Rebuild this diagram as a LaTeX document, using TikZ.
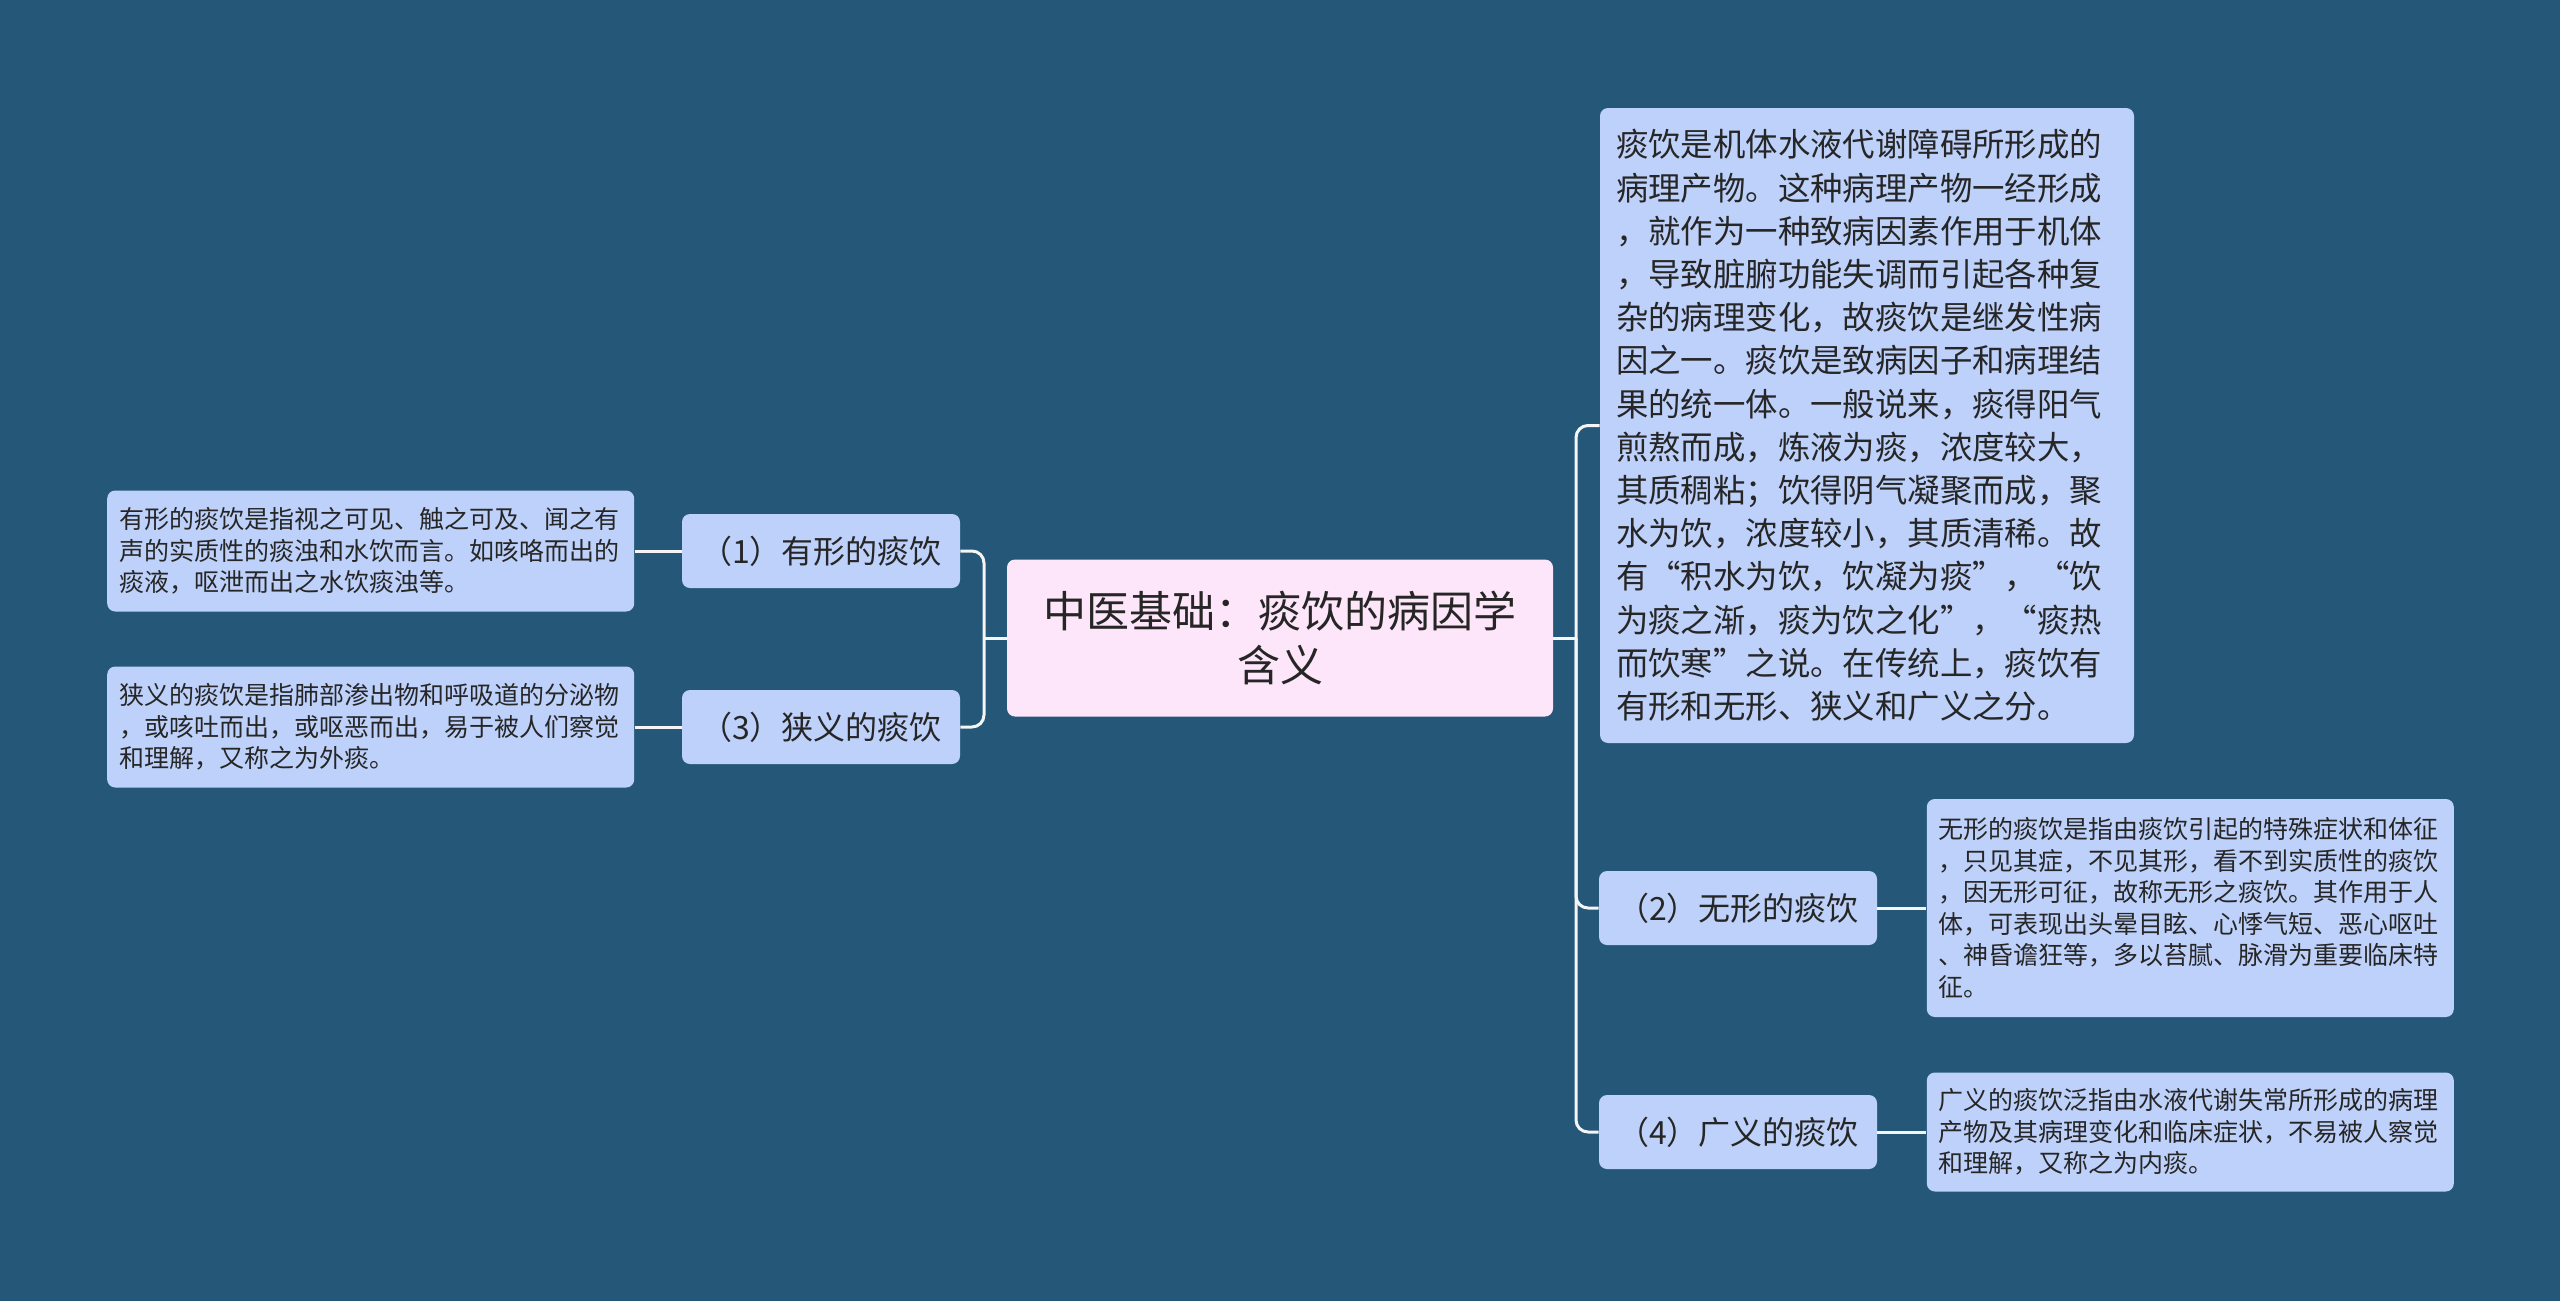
\documentclass[tikz,border=0pt]{standalone}
\usepackage{fontspec}
\newfontfamily\cjk{Noto Sans CJK SC}
\usepackage{tikz}
\usetikzlibrary{positioning}

\definecolor{bgcol}{RGB}{36,87,120}
\definecolor{boxcol}{RGB}{190,209,250}
\definecolor{rootcol}{RGB}{254,230,250}
\definecolor{txtcol}{RGB}{38,38,38}
\definecolor{linecol}{RGB}{245,245,245}

\begin{document}
\begin{tikzpicture}[x=0.5pt, y=-0.5pt,
    link/.style={draw=linecol, line width=1.5pt, rounded corners=6pt},
    root node/.style={rectangle, rounded corners=4pt, fill=rootcol, text=txtcol, align=center,
                      minimum width=273pt, minimum height=78.5pt, font=\cjk\fontsize{21.5}{27}\selectfont},
    branch node/.style={rectangle, rounded corners=4pt, fill=boxcol, text=txtcol,
                        minimum width=139pt, minimum height=37pt, font=\cjk\fontsize{16}{20}\selectfont},
    leaf node/.style={rectangle, rounded corners=4pt, fill=boxcol, text=txtcol, align=left,
                      inner xsep=6pt, text width=251.5pt, font=\cjk\fontsize{12.5}{15.8}\selectfont},
    big node/.style={rectangle, rounded corners=4pt, fill=boxcol, text=txtcol, align=left,
                     inner xsep=8pt, text width=251pt, minimum height=317.5pt, font=\cjk\fontsize{16.2}{21.6}\selectfont}]

  \fill[bgcol] (0,0) rectangle (2560,1301);
  \useasboundingbox (0,0) rectangle (2560,1301);

  \node[root node] (0) at (1280,638) {中医基础：痰饮的病因学\\含义};

  \node[branch node] (1) at (821,551) {（1）有形的痰饮};
  \node[branch node] (3) at (821,727) {（3）狭义的痰饮};
  \node[branch node] (2) at (1738,908) {（2）无形的痰饮};
  \node[branch node] (4) at (1738,1132) {（4）广义的痰饮};

  \node[big node] (5) at (1867,425.5) {痰饮是机体水液代谢障碍所形成的\\
    病理产物。这种病理产物一经形成\\
    ，就作为一种致病因素作用于机体\\
    ，导致脏腑功能失调而引起各种复\\
    杂的病理变化，故痰饮是继发性病\\
    因之一。痰饮是致病因子和病理结\\
    果的统一体。一般说来，痰得阳气\\
    煎熬而成，炼液为痰，浓度较大，\\
    其质稠粘；饮得阴气凝聚而成，聚\\
    水为饮，浓度较小，其质清稀。故\\
    有“积水为饮，饮凝为痰”，“饮\\
    为痰之渐，痰为饮之化”，“痰热\\
    而饮寒”之说。在传统上，痰饮有\\
    有形和无形、狭义和广义之分。};

  \node[leaf node, minimum height=60.5pt, left=23.5pt of 1] (11) {有形的痰饮是指视之可见、触之可及、闻之有\\
    声的实质性的痰浊和水饮而言。如咳咯而出的\\
    痰液，呕泄而出之水饮痰浊等。};
  \node[leaf node, minimum height=60.5pt, left=23.5pt of 3] (31) {狭义的痰饮是指肺部渗出物和呼吸道的分泌物\\
    ，或咳吐而出，或呕恶而出，易于被人们察觉\\
    和理解，又称之为外痰。};
  \node[leaf node, minimum height=109pt, right=24.5pt of 2] (21) {无形的痰饮是指由痰饮引起的特殊症状和体征\\
    ，只见其症，不见其形，看不到实质性的痰饮\\
    ，因无形可征，故称无形之痰饮。其作用于人\\
    体，可表现出头晕目眩、心悸气短、恶心呕吐\\
    、神昏谵狂等，多以苔腻、脉滑为重要临床特\\
    征。};
  \node[leaf node, minimum height=59.5pt, right=24.5pt of 4] (41) {广义的痰饮泛指由水液代谢失常所形成的病理\\
    产物及其病理变化和临床症状，不易被人察觉\\
    和理解，又称之为内痰。};

  \coordinate (ls) at (984,638);
  \coordinate (rs) at (1576,638);

  % left side
  \draw[link] (0.west) -- (ls);
  \draw[link] (ls) |- (1.east);
  \draw[link] (ls) |- (3.east);
  % right side
  \draw[link] (0.east) -- (rs);
  \draw[link] (rs) |- (5.west);
  \draw[link] (rs) |- (2.west);
  \draw[link] (rs) |- (4.west);

  \path[link]
    (1) edge (11)
    (3) edge (31)
    (2) edge (21)
    (4) edge (41);
\end{tikzpicture}
\end{document}
